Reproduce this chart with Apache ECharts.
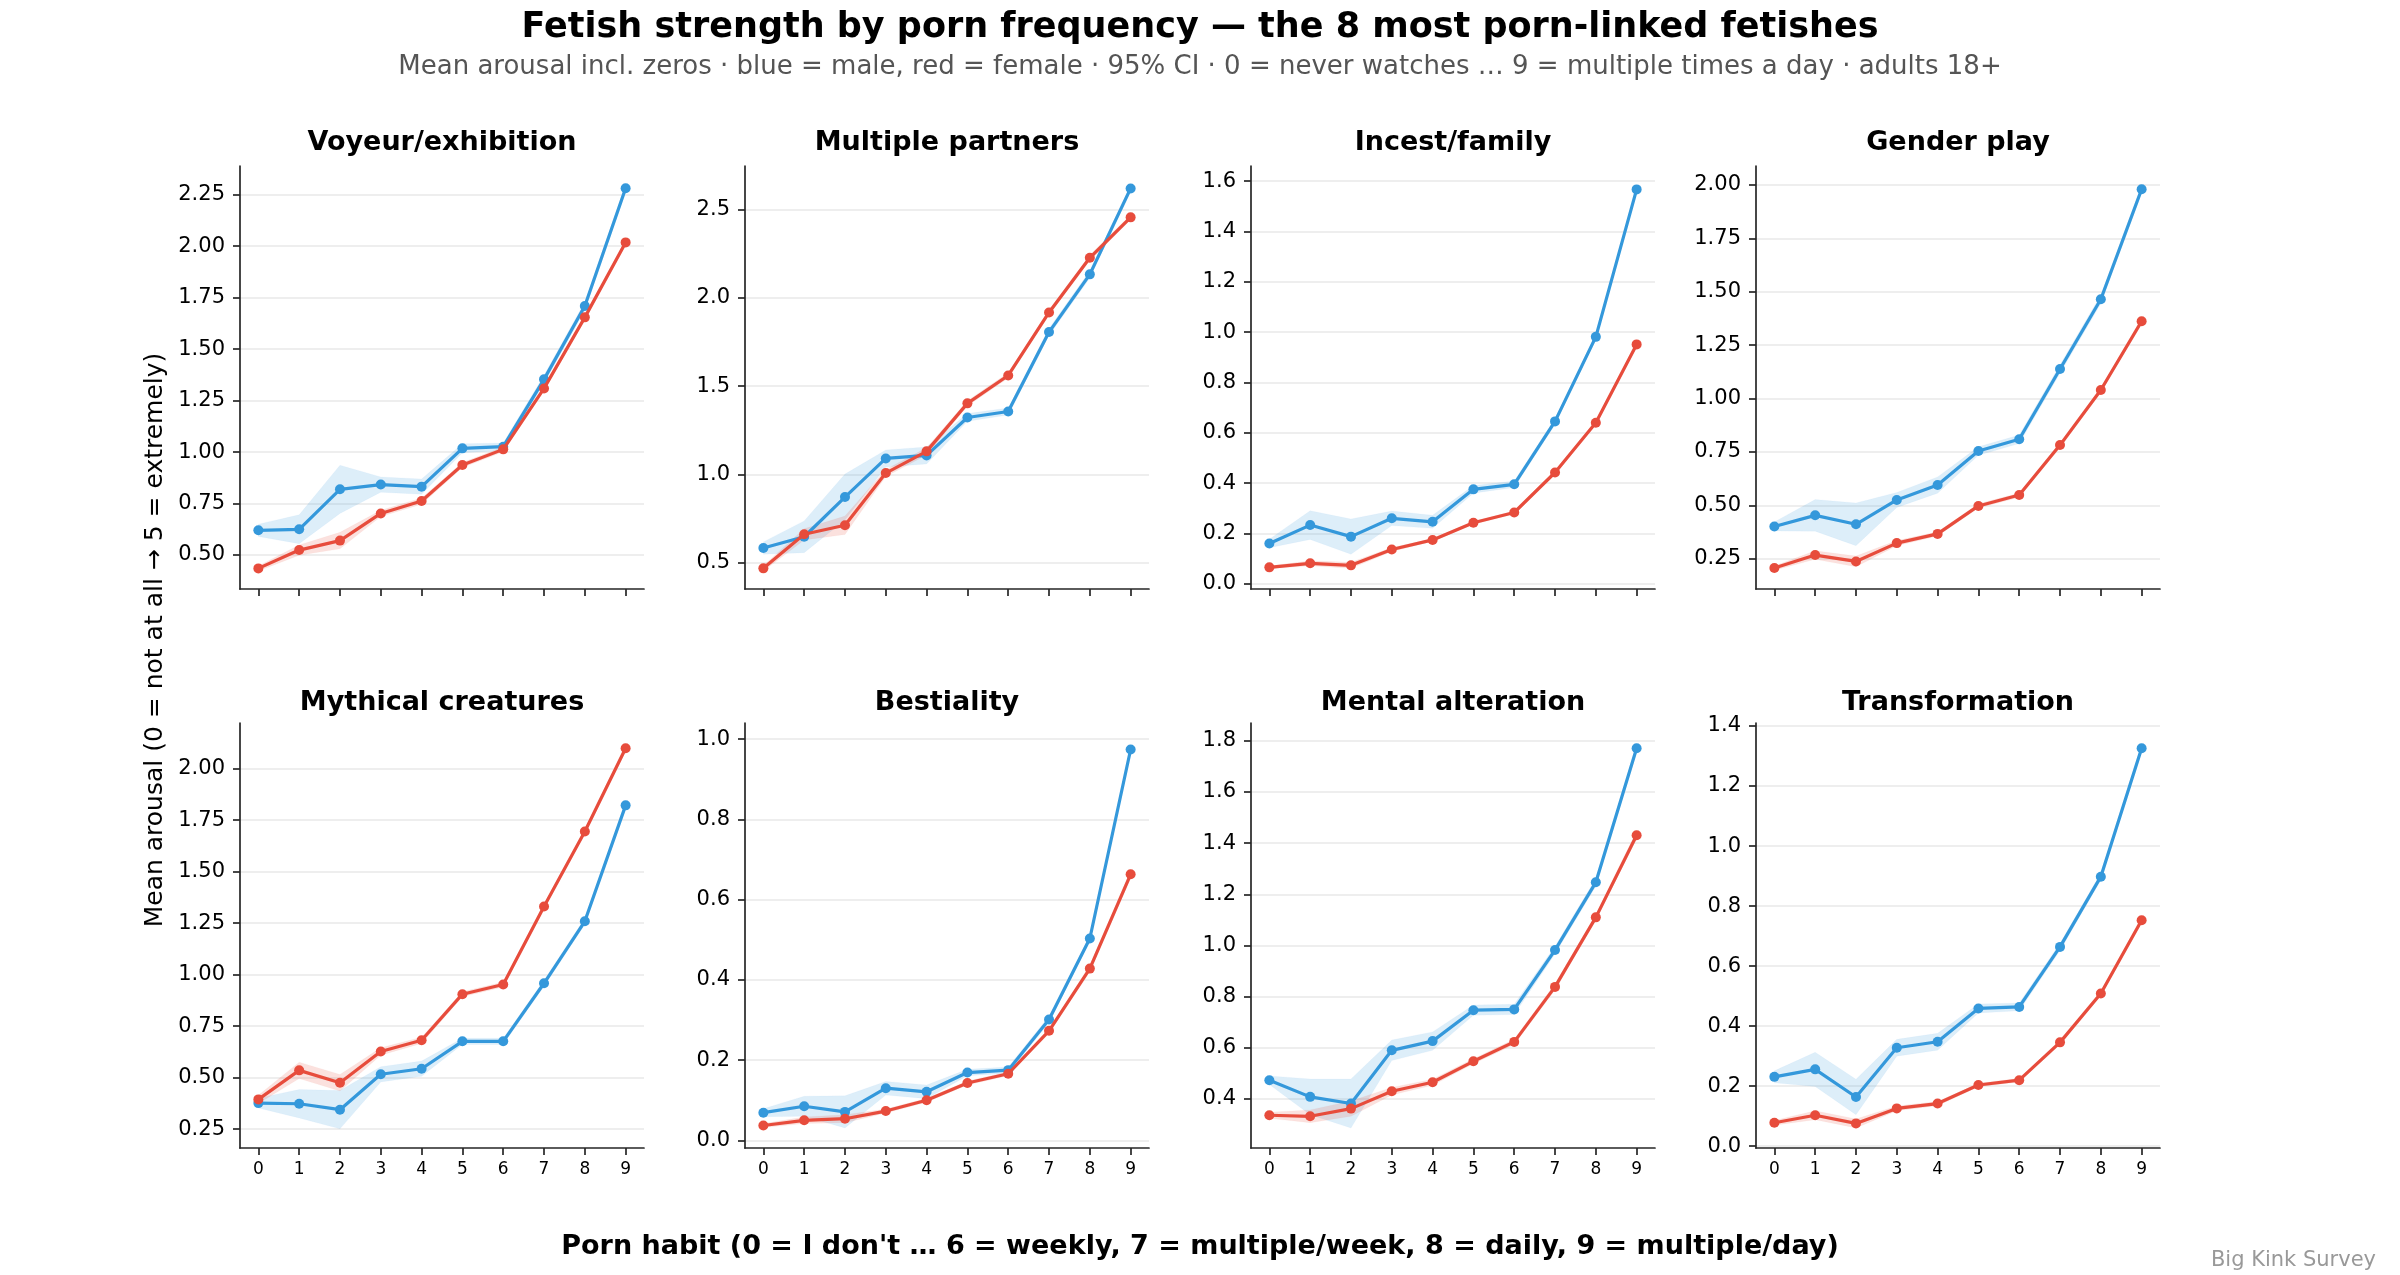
<!DOCTYPE html>
<html>
<head>
<meta charset="utf-8">
<script src="https://cdn.jsdelivr.net/npm/echarts@6/dist/echarts.min.js"></script>
<style>
  html, body { margin: 0; padding: 0; background: #fff; }
  #chart { width: 2400px; height: 1275px; }
</style>
</head>
<body>
<div id="chart"></div>
<script>
// porn habit levels (x axis)
const categories = [0, 1, 2, 3, 4, 5, 6, 7, 8, 9];

const panelTitles = [
  'Voyeur/exhibition', 'Multiple partners', 'Incest/family', 'Gender play',
  'Mythical creatures', 'Bestiality', 'Mental alteration', 'Transformation'
];

// mean arousal, male (blue)
const maleMean = [
  [0.620, 0.625, 0.819, 0.842, 0.832, 1.018, 1.026, 1.353, 1.709, 2.281],
  [0.583, 0.647, 0.872, 1.091, 1.108, 1.323, 1.357, 1.807, 2.134, 2.621],
  [0.160, 0.233, 0.187, 0.260, 0.246, 0.375, 0.395, 0.645, 0.981, 1.567],
  [0.401, 0.453, 0.411, 0.525, 0.595, 0.754, 0.809, 1.138, 1.465, 1.980],
  [0.376, 0.373, 0.344, 0.516, 0.543, 0.676, 0.676, 0.958, 1.259, 1.822],
  [0.069, 0.085, 0.071, 0.130, 0.121, 0.169, 0.175, 0.301, 0.503, 0.974],
  [0.473, 0.408, 0.382, 0.590, 0.626, 0.747, 0.750, 0.982, 1.247, 1.771],
  [0.231, 0.256, 0.164, 0.328, 0.348, 0.459, 0.464, 0.664, 0.898, 1.326]
];

// mean arousal, female (red)
const femaleMean = [
  [0.435, 0.524, 0.570, 0.702, 0.762, 0.937, 1.013, 1.309, 1.654, 2.018],
  [0.468, 0.661, 0.712, 1.008, 1.131, 1.403, 1.561, 1.918, 2.228, 2.457],
  [0.065, 0.081, 0.073, 0.136, 0.174, 0.242, 0.283, 0.442, 0.640, 0.951],
  [0.206, 0.267, 0.237, 0.323, 0.366, 0.497, 0.548, 0.782, 1.040, 1.362],
  [0.394, 0.535, 0.475, 0.627, 0.681, 0.905, 0.952, 1.331, 1.695, 2.099],
  [0.037, 0.050, 0.054, 0.073, 0.100, 0.143, 0.166, 0.273, 0.428, 0.663],
  [0.336, 0.332, 0.362, 0.430, 0.465, 0.547, 0.623, 0.838, 1.110, 1.431],
  [0.078, 0.103, 0.076, 0.126, 0.142, 0.204, 0.220, 0.346, 0.509, 0.753]
];

// 95% CI half widths
const maleCI = [
  [0.030, 0.070, 0.117, 0.037, 0.037, 0.022, 0.018, 0.020, 0.020, 0.020],
  [0.035, 0.090, 0.130, 0.048, 0.048, 0.022, 0.020, 0.020, 0.020, 0.020],
  [0.017, 0.057, 0.070, 0.029, 0.026, 0.015, 0.013, 0.012, 0.012, 0.012],
  [0.021, 0.074, 0.100, 0.035, 0.038, 0.020, 0.020, 0.020, 0.020, 0.020],
  [0.024, 0.069, 0.093, 0.037, 0.037, 0.015, 0.015, 0.015, 0.015, 0.015],
  [0.010, 0.025, 0.040, 0.017, 0.017, 0.008, 0.008, 0.008, 0.008, 0.010],
  [0.017, 0.070, 0.096, 0.040, 0.036, 0.020, 0.020, 0.015, 0.015, 0.015],
  [0.020, 0.057, 0.059, 0.028, 0.028, 0.015, 0.013, 0.012, 0.012, 0.012]
];
const femaleCI = [
  [0.012, 0.025, 0.040, 0.015, 0.015, 0.012, 0.012, 0.012, 0.012, 0.015],
  [0.015, 0.032, 0.052, 0.020, 0.020, 0.015, 0.015, 0.015, 0.015, 0.015],
  [0.006, 0.010, 0.012, 0.008, 0.006, 0.006, 0.006, 0.008, 0.008, 0.010],
  [0.010, 0.020, 0.025, 0.012, 0.010, 0.010, 0.010, 0.012, 0.012, 0.015],
  [0.020, 0.040, 0.040, 0.018, 0.015, 0.012, 0.012, 0.012, 0.012, 0.015],
  [0.005, 0.008, 0.010, 0.005, 0.005, 0.005, 0.005, 0.006, 0.008, 0.010],
  [0.012, 0.025, 0.030, 0.015, 0.012, 0.010, 0.010, 0.012, 0.012, 0.015],
  [0.008, 0.015, 0.015, 0.008, 0.007, 0.006, 0.006, 0.008, 0.008, 0.010]
];

// y tick labels per panel
const yTickLabels = [
  ['0.50', '0.75', '1.00', '1.25', '1.50', '1.75', '2.00', '2.25'],
  ['0.5', '1.0', '1.5', '2.0', '2.5'],
  ['0.0', '0.2', '0.4', '0.6', '0.8', '1.0', '1.2', '1.4', '1.6'],
  ['0.25', '0.50', '0.75', '1.00', '1.25', '1.50', '1.75', '2.00'],
  ['0.25', '0.50', '0.75', '1.00', '1.25', '1.50', '1.75', '2.00'],
  ['0.0', '0.2', '0.4', '0.6', '0.8', '1.0'],
  ['0.4', '0.6', '0.8', '1.0', '1.2', '1.4', '1.6', '1.8'],
  ['0.0', '0.2', '0.4', '0.6', '0.8', '1.0', '1.2', '1.4']
];
const yMin = [0.335, 0.351, -0.021, 0.108, 0.158, -0.019, 0.208, -0.006];
const yMax = [2.389, 2.748, 1.660, 2.089, 2.222, 1.040, 1.870, 1.410];

const FONT = 'DejaVu Sans';
const BLUE = '#3498db';
const RED = '#e74c3c';
const AXIS = '#262626';

const colLeft = [240, 745, 1251, 1756];
const rowTop = [166, 723];
const grids = [], xAxes = [], yAxes = [], series = [], graphics = [];

// CI band as one polygon, drawn through the axis scales
function bandSeries(i, means, cis, color) {
  const data = means.map((m, j) => [categories[j], m - cis[j], m + cis[j]]);
  series.push({
    type: 'custom', xAxisIndex: i, yAxisIndex: i, silent: true, z: 1,
    data: data,
    encode: { x: 0, y: [1, 2] },
    renderItem: (params, api) => {
      if (params.dataIndex !== 0) return null;
      const upper = data.map(d => api.coord([d[0], d[2]]));
      const lower = data.map(d => api.coord([d[0], d[1]])).reverse();
      return {
        type: 'polygon',
        shape: { points: upper.concat(lower) },
        style: { fill: color, opacity: 0.17, stroke: color, lineWidth: 1, strokeOpacity: 0.2 }
      };
    }
  });
}

function meanSeries(i, means, color, z) {
  series.push({
    type: 'line', xAxisIndex: i, yAxisIndex: i,
    data: means.map((m, j) => [categories[j], m]),
    symbol: 'circle', symbolSize: 10, showSymbol: true,
    itemStyle: { color: color },
    lineStyle: { color: color, width: 3.2 },
    z: z
  });
}

panelTitles.forEach((title, i) => {
  const row = Math.floor(i / 4), col = i % 4;
  const h = row ? 425 : 423;
  grids.push({ left: colLeft[col], top: rowTop[row], width: 404, height: h });

  xAxes.push({
    type: 'value', gridIndex: i, min: -0.45, max: 9.45,
    axisLine: { show: true, onZero: false, lineStyle: { color: AXIS, width: 1.7 } },
    axisTick: { show: true, customValues: categories, length: 7, lineStyle: { color: AXIS, width: 1.7 } },
    axisLabel: { show: row === 1, customValues: categories, fontSize: 17, color: '#000', fontFamily: FONT, margin: 13 },
    splitLine: { show: false }
  });

  const ticks = yTickLabels[i].map(Number);
  const dec = yTickLabels[i][0].split('.')[1].length;
  yAxes.push({
    type: 'value', gridIndex: i, min: yMin[i], max: yMax[i],
    axisLine: { show: true, onZero: false, lineStyle: { color: AXIS, width: 1.7 } },
    axisTick: { show: true, customValues: ticks, length: 7, lineStyle: { color: AXIS, width: 1.7 } },
    axisLabel: { customValues: ticks, formatter: v => v.toFixed(dec), fontSize: 21, color: '#000', fontFamily: FONT, margin: 15 },
    splitLine: { show: true, lineStyle: { color: '#e8e8e8', width: 1.5 } }
  });

  bandSeries(i, maleMean[i], maleCI[i], BLUE);
  bandSeries(i, femaleMean[i], femaleCI[i], RED);
  meanSeries(i, maleMean[i], BLUE, 3);
  meanSeries(i, femaleMean[i], RED, 4);

  graphics.push({
    type: 'text', x: colLeft[col] + 202, y: row ? 703 : 143,
    style: { text: title, fill: '#000', font: 'bold 27px "DejaVu Sans"', textAlign: 'center', textVerticalAlign: 'middle' }
  });
});

graphics.push(
  {
    type: 'text', x: 1200, y: 28,
    style: { text: 'Fetish strength by porn frequency — the 8 most porn-linked fetishes', fill: '#000',
      font: 'bold 35px "DejaVu Sans"', textAlign: 'center', textVerticalAlign: 'middle' }
  },
  {
    type: 'text', x: 1200, y: 67,
    style: { text: 'Mean arousal incl. zeros · blue = male, red = female · 95% CI · 0 = never watches … 9 = multiple times a day · adults 18+',
      fill: '#555', font: '26px "DejaVu Sans"', textAlign: 'center', textVerticalAlign: 'middle' }
  },
  {
    type: 'text', x: 155, y: 640, rotation: Math.PI / 2,
    style: { text: 'Mean arousal (0 = not at all → 5 = extremely)', fill: '#000',
      font: '25px "DejaVu Sans"', textAlign: 'center', textVerticalAlign: 'middle' }
  },
  {
    type: 'text', x: 1200, y: 1247,
    style: { text: "Porn habit (0 = I don't … 6 = weekly, 7 = multiple/week, 8 = daily, 9 = multiple/day)", fill: '#000',
      font: 'bold 27px "DejaVu Sans"', textAlign: 'center', textVerticalAlign: 'middle' }
  },
  {
    type: 'text', x: 2376, y: 1261,
    style: { text: 'Big Kink Survey', fill: '#999', font: '21px "DejaVu Sans"', textAlign: 'right', textVerticalAlign: 'middle' }
  }
);

const chart = echarts.init(document.getElementById('chart'));
chart.setOption({
  animation: false,
  backgroundColor: '#fff',
  grid: grids,
  xAxis: xAxes,
  yAxis: yAxes,
  series: series,
  graphic: graphics
});
</script>
</body>
</html>
